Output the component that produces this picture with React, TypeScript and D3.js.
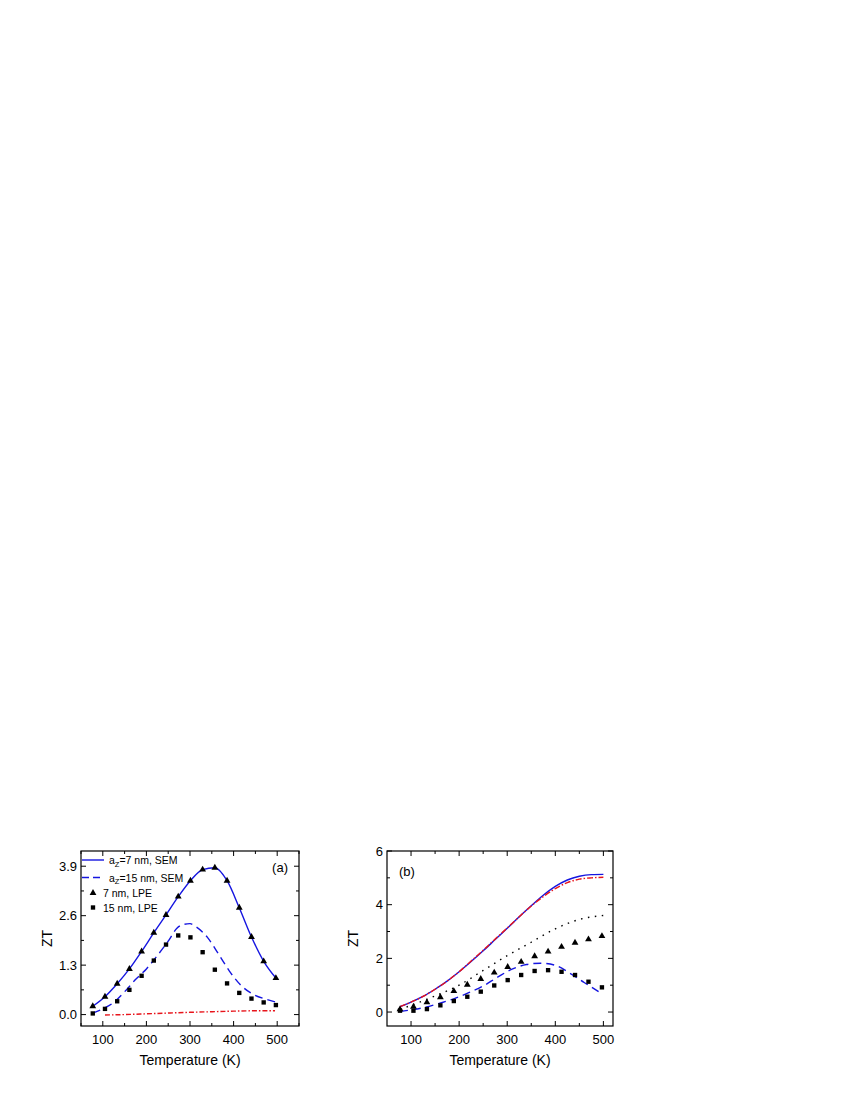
import React from "react";
import * as d3 from "d3";

// panel (a)
const tA = [77, 105, 133, 161, 189, 217, 245, 273, 301, 329, 357, 385, 413, 441, 469, 497];
const sem7A = [0.22, 0.47, 0.81, 1.2, 1.66, 2.15, 2.62, 3.1, 3.52, 3.81, 3.86, 3.52, 2.81, 2.04, 1.4, 0.96];
const lpe7A = [0.22, 0.47, 0.81, 1.2, 1.66, 2.15, 2.62, 3.1, 3.52, 3.81, 3.86, 3.52, 2.81, 2.04, 1.4, 0.96];
const lpe15A = [0.03, 0.15, 0.35, 0.65, 1.02, 1.42, 1.84, 2.08, 2.03, 1.64, 1.18, 0.82, 0.57, 0.42, 0.32, 0.25];
const tSem15A = [77, 100, 125, 150, 175, 200, 225, 250, 270, 285, 300, 315, 340, 365, 390, 415, 445, 475, 500];
const sem15A = [0.04, 0.15, 0.32, 0.6, 0.92, 1.2, 1.55, 1.93, 2.27, 2.37, 2.39, 2.3, 2.03, 1.6, 1.15, 0.79, 0.53, 0.4, 0.32];
const tRedA = [105, 150, 200, 250, 300, 350, 400, 450, 495];
const redA = [-0.01, 0.0, 0.02, 0.04, 0.06, 0.075, 0.09, 0.1, 0.1];
const yTicksA = [0, 1.3, 2.6, 3.9];

// panel (b)
const tLineB = [77, 100, 125, 150, 175, 200, 225, 250, 275, 300, 325, 350, 375, 400, 425, 450, 475, 500];
const blueB = [0.2, 0.37, 0.58, 0.85, 1.15, 1.5, 1.88, 2.28, 2.7, 3.12, 3.55, 3.96, 4.35, 4.68, 4.92, 5.06, 5.12, 5.13];
const redB = [0.2, 0.37, 0.58, 0.85, 1.15, 1.5, 1.9, 2.3, 2.72, 3.13, 3.55, 3.95, 4.3, 4.6, 4.82, 4.95, 5.0, 5.02];
const tDotB = [77, 100, 150, 200, 250, 300, 350, 400, 450, 500];
const dotB = [0.1, 0.25, 0.6, 1.0, 1.55, 2.1, 2.6, 3.1, 3.45, 3.6];
const tDashB = [77, 100, 130, 160, 190, 220, 250, 280, 310, 340, 370, 400, 430, 460, 490];
const dashB = [0.02, 0.08, 0.18, 0.33, 0.5, 0.72, 0.97, 1.3, 1.6, 1.77, 1.82, 1.74, 1.45, 1.1, 0.76];
const tPtsB = [77, 105, 133, 161, 189, 217, 245, 273, 301, 329, 357, 385, 413, 441, 469, 497];
const triB = [0.1, 0.2, 0.36, 0.55, 0.78, 1.02, 1.23, 1.47, 1.68, 1.87, 2.08, 2.25, 2.43, 2.58, 2.71, 2.83];
const sqB = [0.05, 0.05, 0.11, 0.25, 0.41, 0.57, 0.76, 0.99, 1.19, 1.38, 1.53, 1.56, 1.5, 1.38, 1.13, 0.92];
const yTicksB = [0, 2, 4, 6];

const xTicks = [100, 200, 300, 400, 500];
const FONT = "Arial, 'Liberation Sans', Helvetica, sans-serif";
const BLUE = "#1515e0";
const RED = "#e8141b";

const zip = (xs: number[], ys: number[]) => xs.map((x, i) => [x, ys[i]] as [number, number]);

const triPath = d3.symbol().type(d3.symbolTriangle).size(20)()!;
const sqPath = d3.symbol().type(d3.symbolSquare).size(19)()!;

type Series = { pts: [number, number][]; color: string; dash?: string; width?: number };

type PanelProps = {
  left: number; right: number; top: number; bottom: number;
  xDomain: [number, number]; yDomain: [number, number];
  xMinor: number[]; yTicks: number[]; yMinor: number[]; yFmt: (v: number) => string;
  lines: Series[];
  tris: [number, number][]; squares: [number, number][];
  tag: string; tagX: number; tagY: number; tagAnchor: string;
  children?: React.ReactNode;
};

const Panel = (p: PanelProps) => {
  const x = d3.scaleLinear().domain(p.xDomain).range([p.left, p.right]);
  const y = d3.scaleLinear().domain(p.yDomain).range([p.bottom, p.top]);
  const line = d3.line<[number, number]>().x((d) => x(d[0])).y((d) => y(d[1])).curve(d3.curveMonotoneX);
  const clipId = "clip" + p.tag.replace(/\W/g, "");
  const maj = 5, mnr = 3;
  return (
    <g fontFamily={FONT}>
      <defs>
        <clipPath id={clipId}>
          <rect x={p.left} y={p.top} width={p.right - p.left} height={p.bottom - p.top} />
        </clipPath>
      </defs>
      <g clipPath={`url(#${clipId})`}>
        {p.lines.map((s, i) => (
          <path key={i} d={line(s.pts)!} fill="none" stroke={s.color} strokeWidth={s.width ?? 1.4} strokeDasharray={s.dash} />
        ))}
        {p.tris.map((d, i) => (
          <path key={"t" + i} d={triPath} transform={`translate(${x(d[0])},${y(d[1])})`} fill="#000" />
        ))}
        {p.squares.map((d, i) => (
          <path key={"s" + i} d={sqPath} transform={`translate(${x(d[0])},${y(d[1])})`} fill="#000" />
        ))}
      </g>
      <rect x={p.left} y={p.top} width={p.right - p.left} height={p.bottom - p.top} fill="none" stroke="#000" strokeWidth={1.2} />
      {xTicks.map((t) => (
        <g key={"x" + t}>
          <line x1={x(t)} x2={x(t)} y1={p.bottom} y2={p.bottom - maj} stroke="#000" />
          <line x1={x(t)} x2={x(t)} y1={p.top} y2={p.top + maj} stroke="#000" />
          <text x={x(t)} y={p.bottom + 18} textAnchor="middle" fontSize={13}>{t}</text>
        </g>
      ))}
      {p.xMinor.map((t) => (
        <g key={"xm" + t}>
          <line x1={x(t)} x2={x(t)} y1={p.bottom} y2={p.bottom - mnr} stroke="#000" />
          <line x1={x(t)} x2={x(t)} y1={p.top} y2={p.top + mnr} stroke="#000" />
        </g>
      ))}
      {p.yTicks.map((t) => (
        <g key={"y" + t}>
          <line x1={p.left} x2={p.left + maj} y1={y(t)} y2={y(t)} stroke="#000" />
          <line x1={p.right} x2={p.right - maj} y1={y(t)} y2={y(t)} stroke="#000" />
          <text x={p.left - 4} y={y(t) + 4.5} textAnchor="end" fontSize={13}>{p.yFmt(t)}</text>
        </g>
      ))}
      {p.yMinor.map((t) => (
        <g key={"ym" + t}>
          <line x1={p.left} x2={p.left + mnr} y1={y(t)} y2={y(t)} stroke="#000" />
          <line x1={p.right} x2={p.right - mnr} y1={y(t)} y2={y(t)} stroke="#000" />
        </g>
      ))}
      <text x={(p.left + p.right) / 2} y={p.bottom + 39} textAnchor="middle" fontSize={14}>Temperature (K)</text>
      <text transform={`translate(${p.left - 29},${(p.top + p.bottom) / 2}) rotate(-90)`} textAnchor="middle" fontSize={14}>ZT</text>
      <text x={p.tagX} y={p.tagY} textAnchor={p.tagAnchor} fontSize={13}>{p.tag}</text>
      {p.children}
    </g>
  );
};

const Legend = () => {
  const rows = [
    { y: 860, kind: "solid", sub: "Z", text: "=7 nm, SEM" },
    { y: 877.5, kind: "dash", sub: "Z", text: "=15 nm, SEM" },
    { y: 893, kind: "tri", text: "7 nm, LPE" },
    { y: 907.5, kind: "sq", text: "15 nm, LPE" },
  ];
  return (
    <g fontFamily={FONT} fontSize={10.5}>
      {rows.map((r, i) => (
        <g key={i}>
          {r.kind === "solid" && <line x1={82} x2={104} y1={r.y} y2={r.y} stroke={BLUE} strokeWidth={1.4} />}
          {r.kind === "dash" && <line x1={82} x2={104} y1={r.y} y2={r.y} stroke={BLUE} strokeWidth={1.4} strokeDasharray="7,4" />}
          {r.kind === "tri" && <path d={triPath} transform={`translate(93,${r.y})`} fill="#000" />}
          {r.kind === "sq" && <path d={sqPath} transform={`translate(93,${r.y})`} fill="#000" />}
          {r.sub ? (
            <text x={109} y={r.y + 4}>
              a<tspan fontSize={7.5} dy={2.5}>{r.sub}</tspan>
              <tspan dy={-2.5}>{r.text}</tspan>
            </text>
          ) : (
            <text x={103} y={r.y + 4}>{r.text}</text>
          )}
        </g>
      ))}
    </g>
  );
};

export default function App() {
  return (
    <svg width={850} height={1100} style={{ position: "absolute", left: 0, top: 0, background: "#fff" }}>
      <Panel
        left={81} right={299} top={851} bottom={1026}
        xDomain={[50, 550]} yDomain={[-0.3, 4.3]}
        xMinor={[50, 150, 250, 350, 450, 550]}
        yTicks={yTicksA} yMinor={[0.65, 1.95, 3.25]} yFmt={(v) => v.toFixed(1)}
        lines={[
          { pts: zip(tA, sem7A), color: BLUE },
          { pts: zip(tSem15A, sem15A), color: BLUE, dash: "8,5" },
          { pts: zip(tRedA, redA), color: RED, dash: "5,2,1.5,2" },
        ]}
        tris={zip(tA, lpe7A)} squares={zip(tA, lpe15A)}
        tag="(a)" tagX={288} tagY={872} tagAnchor="end"
      >
        <Legend />
      </Panel>
      <Panel
        left={387} right={613} top={851} bottom={1026}
        xDomain={[50, 520]} yDomain={[-0.52, 6]}
        xMinor={[150, 250, 350, 450]}
        yTicks={yTicksB} yMinor={[1, 3, 5]} yFmt={(v) => String(v)}
        lines={[
          { pts: zip(tLineB, blueB), color: BLUE },
          { pts: zip(tLineB, redB), color: RED, dash: "6,2,1.5,2" },
          { pts: zip(tDotB, dotB), color: "#000", dash: "1.5,5.5" },
          { pts: zip(tDashB, dashB), color: BLUE, dash: "8,5" },
        ]}
        tris={zip(tPtsB, triB)} squares={zip(tPtsB, sqB)}
        tag="(b)" tagX={399} tagY={876} tagAnchor="start"
      />
    </svg>
  );
}
